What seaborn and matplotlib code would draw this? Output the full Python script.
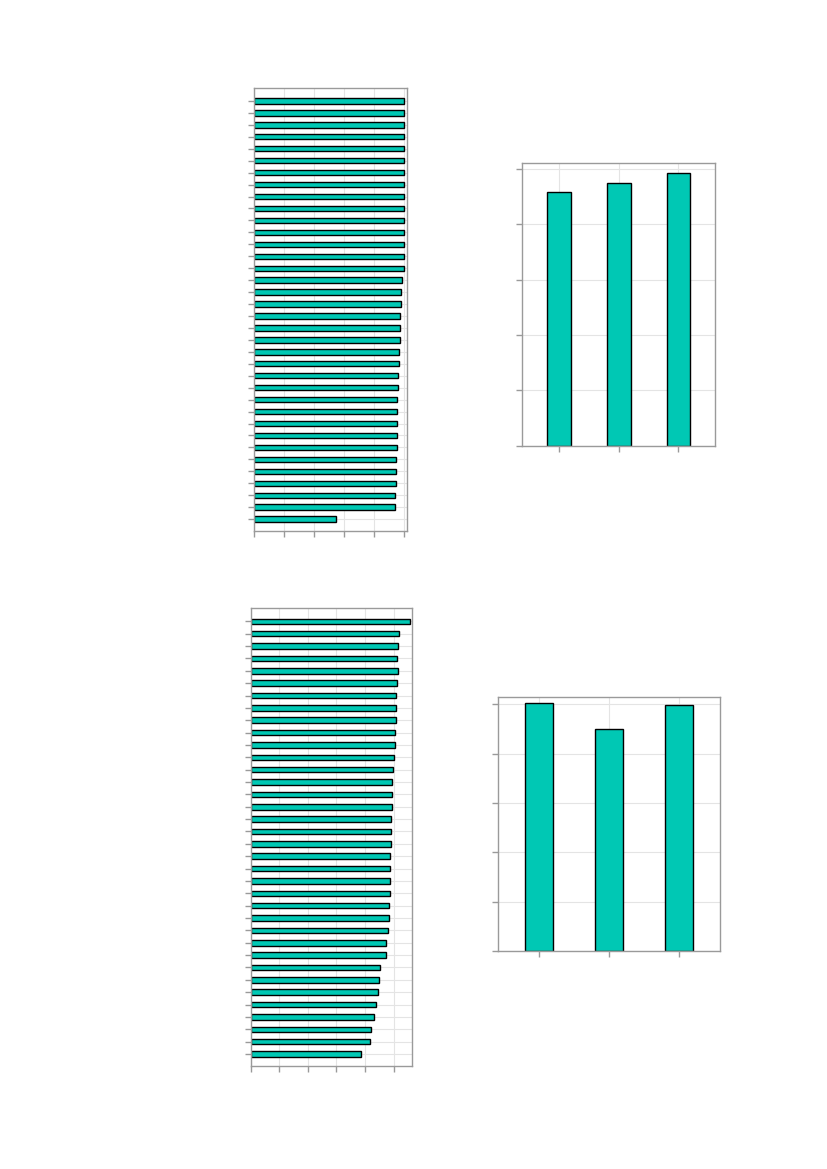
import pandas as pd
import seaborn as sns
import matplotlib.pyplot as plt

# 데이터 (그림에서 읽은 값, 눈금 글자는 없음)
top_items = [f'항목{i + 1}' for i in range(36)]
top_values = [100, 100, 100, 100, 100, 100, 100, 100, 100, 100, 100, 100,
              100, 100, 100, 98.7, 98.0, 98.0, 97.3, 97.3, 97.3, 96.7, 96.7,
              96.0, 96.0, 95.3, 95.3, 95.3, 95.3, 95.4, 94.8, 94.2, 94.2,
              93.6, 93.6, 54.2]

top_groups = ['그룹1', '그룹2', '그룹3']
top_group_values = [91.4, 94.7, 98.3]

bottom_items = [f'항목{i + 1}' for i in range(36)]
bottom_values = [111.2, 103.5, 102.8, 102.5, 102.8, 102.1, 101.8, 101.8,
                 101.4, 100.7, 100.7, 100.4, 99.3, 98.6, 98.6, 98.6, 97.9,
                 97.9, 97.9, 97.2, 97.2, 97.2, 97.2, 96.5, 96.5, 95.8, 94.4,
                 94.4, 90.2, 89.5, 88.8, 87.4, 86.0, 83.9, 83.2, 76.9]

bottom_groups = ['그룹1', '그룹2', '그룹3']
bottom_group_values = [100.4, 90.0, 99.6]

bar_color = '#00C8B4'

sns.set_style('whitegrid', {
    'axes.edgecolor': '#9a9a9a',
    'grid.color': '#e4e4e4',
    'xtick.bottom': True,
    'ytick.left': True,
    'xtick.color': '#9a9a9a',
    'ytick.color': '#9a9a9a',
})
plt.rcParams['font.family'] = ['Noto Sans CJK KR', 'DejaVu Sans']
plt.rcParams['axes.linewidth'] = 1.0

fig = plt.figure(figsize=(8.27, 11.69), dpi=100)

ax1 = fig.add_axes([0.3075, 0.546, 0.1846, 0.3784])
ax2 = fig.add_axes([0.6316, 0.6185, 0.2334, 0.2418])
ax3 = fig.add_axes([0.3031, 0.0881, 0.1954, 0.3915])
ax4 = fig.add_axes([0.6025, 0.1862, 0.2684, 0.2173])

df1 = pd.DataFrame({'항목': top_items, '값': top_values})
df2 = pd.DataFrame({'그룹': top_groups, '값': top_group_values})
df3 = pd.DataFrame({'항목': bottom_items, '값': bottom_values})
df4 = pd.DataFrame({'그룹': bottom_groups, '값': bottom_group_values})

# 가로 막대
for ax, df, xmax in [(ax1, df1, 101.8), (ax3, df3, 113.0)]:
    sns.barplot(data=df, x='값', y='항목', orient='h', width=0.45,
                color=bar_color, edgecolor='black', linewidth=1.0,
                saturation=1, ax=ax)
    ax.set_xlim(0, xmax)
    ax.set_ylim(35.97, -1.05)
    ax.set_xticks([0, 20, 40, 60, 80, 100])

# 세로 막대
for ax, df, ymax, xl in [(ax2, df2, 101.9, 0.62), (ax4, df4, 102.8, 0.586)]:
    sns.barplot(data=df, x='그룹', y='값', width=0.4,
                color=bar_color, edgecolor='black', linewidth=1.0,
                saturation=1, ax=ax)
    ax.set_ylim(0, ymax)
    ax.set_xlim(-xl, 2 + xl)
    ax.set_yticks([0, 20, 40, 60, 80, 100])

for ax in [ax1, ax2, ax3, ax4]:
    ax.grid(True, axis='both')
    ax.set_axisbelow(True)
    ax.set_xlabel('')
    ax.set_ylabel('')
    ax.tick_params(labelleft=False, labelbottom=False, length=4, width=1)
    for s in ax.spines.values():
        s.set_visible(True)
        s.set_color('#9a9a9a')

fig.savefig('out.png', dpi=100)
